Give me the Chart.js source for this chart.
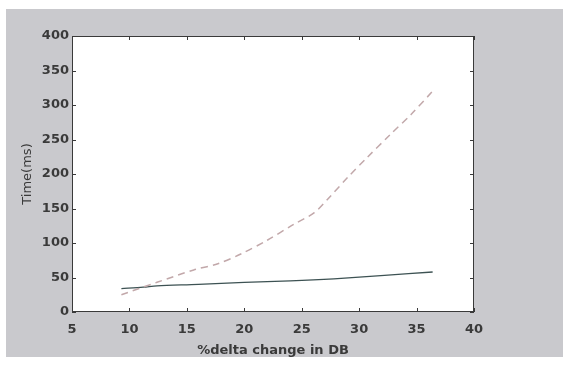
<!DOCTYPE html>
<html>
<head>
<meta charset="utf-8">
<script src="https://cdn.jsdelivr.net/npm/chart.js@4/dist/chart.umd.min.js"></script>
<style>
  html, body { margin: 0; padding: 0; background: #ffffff; }
  canvas { display: block; }
</style>
</head>
<body>
<canvas id="deltaChart" width="563" height="365"></canvas>
<script>
// --- DATA ---
const dashedX = [9.3, 12.4, 15.6, 17.7, 19.7, 22.0, 24.3, 26.1, 27.4, 29.0, 30.7, 32.7, 34.5, 36.4];
const dashedY = [25, 43, 61, 70, 84, 104, 127, 144, 166, 195, 224, 257, 286, 320];
const solidX = [9.3, 11.2, 12.4, 16.0, 20.0, 24.0, 27.8, 32.2, 36.4];
const solidY = [34, 36, 38, 40, 43, 45, 48, 53, 58];
const xTicks = [5, 10, 15, 20, 25, 30, 35, 40];
const yTicks = [0, 50, 100, 150, 200, 250, 300, 350, 400];

const toPoints = (xs, ys) => xs.map((x, i) => ({x: x, y: ys[i]}));

// grey scanned page + white axes box, then matlab style inward ticks
const paperPlugin = {
    id: 'paper',
    beforeDraw(chart) {
        const ctx = chart.ctx;
        const a = chart.chartArea;
        ctx.save();
        ctx.fillStyle = '#ffffff';
        ctx.fillRect(0, 0, chart.width, chart.height);
        ctx.fillStyle = '#c9c9cd';
        ctx.fillRect(6, 9, chart.width - 6, 348);
        ctx.fillStyle = '#ffffff';
        ctx.fillRect(a.left, a.top, a.right - a.left, a.bottom - a.top);
        ctx.restore();
    },
    afterDatasetsDraw(chart) {
        const ctx = chart.ctx;
        const a = chart.chartArea;
        const xs = chart.scales.x, ys = chart.scales.y;
        ctx.save();
        ctx.strokeStyle = '#3a3a3a';
        ctx.lineWidth = 1;
        ctx.strokeRect(a.left + 0.5, a.top + 0.5, a.right - a.left - 1, a.bottom - a.top - 1);
        ctx.beginPath();
        xTicks.forEach(v => {
            const px = Math.round(xs.getPixelForValue(v)) + 0.5;
            ctx.moveTo(px, a.bottom); ctx.lineTo(px, a.bottom - 4);
            ctx.moveTo(px, a.top); ctx.lineTo(px, a.top + 4);
        });
        yTicks.forEach(v => {
            const py = Math.round(ys.getPixelForValue(v)) + 0.5;
            ctx.moveTo(a.left, py); ctx.lineTo(a.left + 4, py);
            ctx.moveTo(a.right, py); ctx.lineTo(a.right - 4, py);
        });
        ctx.stroke();
        ctx.restore();
    }
};

const tickFont = { family: 'DejaVu Sans, sans-serif', size: 13, weight: 'bold' };

new Chart(document.getElementById('deltaChart').getContext('2d'), {
    type: 'line',
    data: {
        datasets: [{
            label: 'dashed',
            data: toPoints(dashedX, dashedY),
            borderColor: '#c2a8aa',
            borderWidth: 1.5,
            borderDash: [7, 5],
            pointRadius: 0,
            fill: false,
            tension: 0.3
        }, {
            label: 'solid',
            data: toPoints(solidX, solidY),
            borderColor: '#3d5253',
            borderWidth: 1.3,
            pointRadius: 0,
            fill: false,
            tension: 0.3
        }]
    },
    options: {
        responsive: false,
        animation: false,
        layout: { padding: { left: 0, right: 89, top: 36, bottom: 0 } },
        plugins: {
            legend: { display: false },
            tooltip: { enabled: false }
        },
        scales: {
            x: {
                type: 'linear',
                min: 5, max: 40,
                afterBuildTicks: s => { s.ticks = xTicks.map(v => ({value: v})); },
                afterFit: s => { s.height = 53; },
                grid: { display: false, drawTicks: false },
                border: { display: false },
                ticks: { color: '#3a3a3a', font: tickFont, padding: 10 },
                title: {
                    display: true,
                    text: '%delta change in DB',
                    color: '#3a3a3a',
                    font: { family: 'DejaVu Sans, sans-serif', size: 13, weight: 'bold' },
                    padding: { top: 0, bottom: 7 }
                }
            },
            y: {
                min: 0, max: 400,
                afterBuildTicks: s => { s.ticks = yTicks.map(v => ({value: v})); },
                afterFit: s => { s.width = 72; },
                grid: { display: false, drawTicks: false },
                border: { display: false },
                ticks: { color: '#3a3a3a', font: tickFont, padding: 3 },
                title: {
                    display: true,
                    text: 'Time(ms)',
                    color: '#3a3a3a',
                    font: { family: 'DejaVu Sans, sans-serif', size: 13 },
                    padding: { top: 20, bottom: 0 }
                }
            }
        }
    },
    plugins: [paperPlugin]
});
</script>
</body>
</html>
